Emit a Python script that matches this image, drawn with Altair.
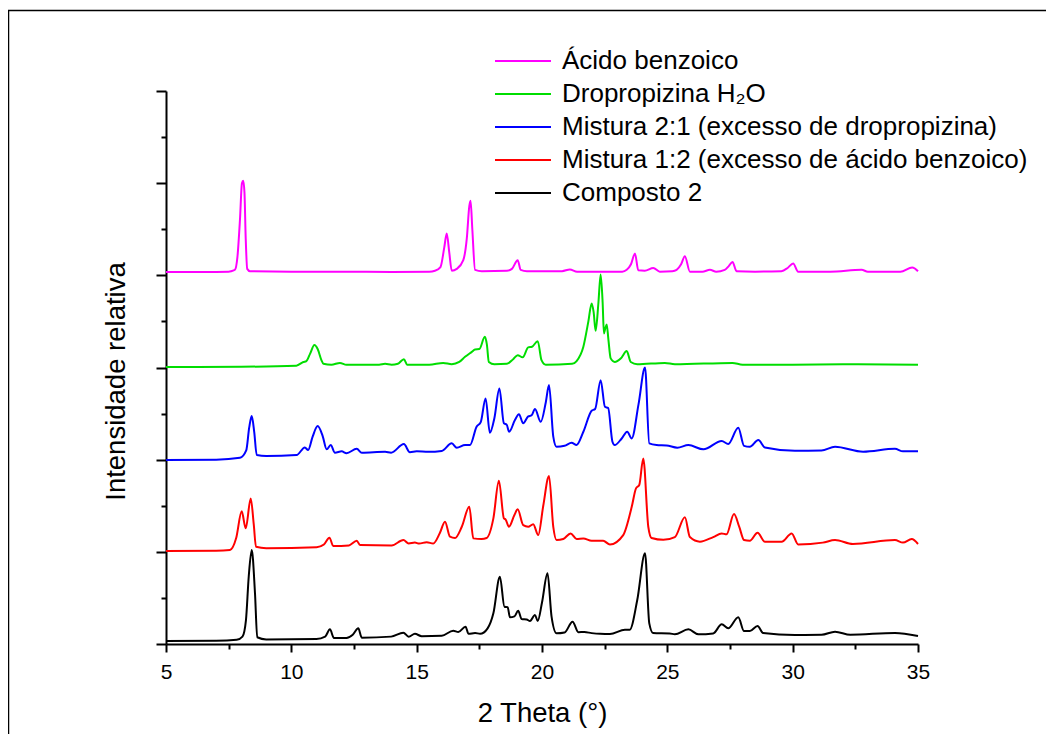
import altair as alt
import pandas as pd

series_names = ["Ácido benzoico", "Dropropizina H₂O", "Mistura 2:1 (excesso de dropropizina)",
                "Mistura 1:2 (excesso de ácido benzoico)", "Composto 2"]
series_colors = ["#FF00FF", "#00DD00", "#0000FF", "#FF0000", "#000000"]
series_offsets = [4, 3, 2, 1, 0]

acido_x = [5.0, 6.5, 7.5, 7.6, 7.75, 7.85, 7.95, 8.03, 8.08, 8.13, 8.18, 8.24, 8.35, 10.0, 12.0, 14.0, 15.5,
           15.73, 15.95, 16.1, 16.2, 16.3, 16.4, 16.6, 16.86, 17.0, 17.1, 17.15, 17.22, 17.33, 17.6, 18.6, 18.8,
           19.03, 19.15, 19.4, 20.8, 21.11, 21.4, 23.2, 23.38, 23.55, 23.71, 23.84, 24.1, 24.44, 24.7, 25.2, 25.37,
           25.55, 25.7, 25.9, 26.4, 26.7, 26.95, 27.29, 27.45, 27.6, 27.76, 28.5, 29.55, 29.8, 30.02, 30.22, 31.5,
           32.75, 33.0, 34.3, 34.77, 35.0]
acido_y = [0.035, 0.035, 0.04, 0.045, 0.06, 0.2, 0.6, 1.0, 1.025, 0.9, 0.4, 0.07, 0.045, 0.04, 0.04, 0.037, 0.04,
           0.05, 0.09, 0.3, 0.454, 0.25, 0.05, 0.07, 0.165, 0.4, 0.75, 0.808, 0.5, 0.06, 0.045, 0.05, 0.07,
           0.165, 0.06, 0.045, 0.045, 0.064, 0.04, 0.04, 0.06, 0.12, 0.237, 0.055, 0.05, 0.08, 0.04, 0.045, 0.06,
           0.12, 0.208, 0.04, 0.04, 0.06, 0.04, 0.06, 0.1, 0.146, 0.045, 0.04, 0.045, 0.08, 0.129, 0.04, 0.04,
           0.06, 0.04, 0.04, 0.086, 0.045]

drop_x = [5.0, 8.0, 10.2, 10.48, 10.6, 10.75, 10.92, 11.05, 11.2, 11.28, 11.6, 11.94, 12.2, 13.5, 13.74, 14.0,
          14.25, 14.49, 14.62, 15.5, 16.06, 16.4, 16.7, 16.93, 17.2, 17.33, 17.5, 17.72, 17.8, 17.88, 18.1, 18.6,
          18.85, 19.03, 19.23, 19.45, 19.6, 19.83, 19.98, 20.15, 21.2, 21.38, 21.65, 21.85, 21.98, 22.06, 22.14,
          22.25, 22.34, 22.42, 22.47, 22.52, 22.58, 22.65, 22.74, 22.9, 23.15, 23.38, 23.54, 23.8, 24.9, 25.3,
          27.6, 28.0, 30.0, 32.0, 35.0]
drop_y = [0.005, 0.008, 0.02, 0.06, 0.07, 0.15, 0.243, 0.2, 0.08, 0.04, 0.03, 0.05, 0.03, 0.03, 0.04, 0.03,
          0.04, 0.09, 0.03, 0.03, 0.05, 0.035, 0.06, 0.116, 0.17, 0.196, 0.2, 0.333, 0.25, 0.06, 0.035, 0.04,
          0.09, 0.134, 0.11, 0.218, 0.225, 0.286, 0.08, 0.03, 0.04, 0.07, 0.225, 0.5, 0.695, 0.6, 0.398,
          0.7, 1.01, 0.7, 0.37, 0.42, 0.467, 0.3, 0.099, 0.06, 0.1, 0.178, 0.06, 0.035, 0.05, 0.035,
          0.05, 0.03, 0.03, 0.035, 0.03]

m21_x = [5.0, 7.0, 7.95, 8.2, 8.32, 8.42, 8.52, 8.62, 9.0, 10.21, 10.54, 10.67, 10.85, 11.05, 11.25, 11.41,
         11.57, 11.74, 12.01, 12.2, 12.61, 12.81, 13.74, 13.98, 14.49, 14.73, 15.0, 15.46, 16.0, 16.4, 16.6,
         16.93, 17.13, 17.39, 17.56, 17.75, 17.92, 18.1, 18.3, 18.48, 18.59, 18.69, 18.92, 19.08, 19.25, 19.45,
         19.58, 19.72, 19.95, 20.15, 20.28, 20.45, 20.58, 20.9, 21.18, 21.38, 21.65, 21.98, 22.12, 22.34, 22.51,
         22.64, 22.81, 22.9, 23.18, 23.4, 23.58, 23.85, 24.11, 24.28, 24.57, 24.97, 25.4, 25.84, 26.44, 27.17,
         27.43, 27.83, 28.06, 28.29, 28.63, 28.89, 30.09, 31.15, 31.69, 32.81, 34.08, 34.4, 35.0]
m21_y = [-0.004, 0.0, 0.02, 0.1, 0.35, 0.473, 0.3, 0.05, 0.04, 0.05, 0.133, 0.104, 0.25, 0.364, 0.256, 0.112,
         0.158, 0.075, 0.09, 0.07, 0.118, 0.075, 0.085, 0.075, 0.169, 0.08, 0.09, 0.085, 0.095, 0.177, 0.13,
         0.16, 0.16, 0.357, 0.411, 0.665, 0.292, 0.45, 0.773, 0.394, 0.38, 0.303, 0.43, 0.494, 0.394, 0.47,
         0.48, 0.549, 0.411, 0.62, 0.809, 0.25, 0.14, 0.15, 0.183, 0.16, 0.303, 0.531, 0.55, 0.863, 0.574,
         0.56, 0.194, 0.158, 0.23, 0.303, 0.231, 0.6, 1.0, 0.177, 0.16, 0.155, 0.13, 0.158, 0.112, 0.202,
         0.17, 0.346, 0.15, 0.14, 0.213, 0.133, 0.097, 0.1, 0.14, 0.086, 0.118, 0.09, 0.09]

m12_x = [5.0, 7.0, 7.55, 7.8, 8.02, 8.18, 8.38, 8.5, 8.59, 9.0, 11.01, 11.3, 11.52, 11.67, 12.3, 12.61, 12.74,
         14.0, 14.47, 14.68, 14.93, 15.1, 15.4, 15.66, 15.93, 16.13, 16.33, 16.53, 16.8, 17.1, 17.26, 17.59,
         17.79, 18.06, 18.28, 18.48, 18.55, 18.68, 18.9, 19.03, 19.25, 19.45, 19.65, 19.85, 20.05, 20.28, 20.45,
         20.58, 20.85, 21.14, 21.38, 21.65, 21.98, 22.44, 22.71, 23.24, 23.58, 23.75, 23.88, 24.04, 24.24,
         24.37, 24.84, 25.3, 25.7, 25.9, 26.3, 26.83, 27.17, 27.36, 27.66, 27.87, 28.06, 28.29, 28.6, 28.89,
         29.56, 29.96, 30.22, 31.2, 31.69, 32.4, 34.08, 34.4, 34.75, 35.0]
m12_y = [0.01, 0.012, 0.02, 0.15, 0.44, 0.255, 0.58, 0.3, 0.055, 0.04, 0.05, 0.08, 0.154, 0.063, 0.07, 0.12, 0.074,
         0.07, 0.128, 0.09, 0.1, 0.09, 0.105, 0.09, 0.207, 0.327, 0.164, 0.15, 0.272, 0.489, 0.146, 0.14,
         0.15, 0.363, 0.771, 0.363, 0.35, 0.272, 0.4, 0.461, 0.29, 0.272, 0.3, 0.182, 0.5, 0.822, 0.27,
         0.128, 0.14, 0.2, 0.14, 0.145, 0.12, 0.12, 0.08, 0.182, 0.489, 0.689, 0.725, 1.014, 0.272,
         0.15, 0.13, 0.16, 0.374, 0.16, 0.11, 0.16, 0.2, 0.19, 0.41, 0.27, 0.128, 0.12, 0.207, 0.11,
         0.11, 0.2, 0.08, 0.1, 0.128, 0.085, 0.128, 0.1, 0.138, 0.085]

comp_x = [5.0, 7.0, 7.82, 8.05, 8.19, 8.3, 8.42, 8.55, 8.64, 9.0, 11.0, 11.35, 11.54, 11.7, 12.2, 12.45, 12.67,
          12.81, 13.98, 14.47, 14.68, 14.93, 15.2, 16.0, 16.46, 16.66, 16.95, 17.07, 17.33, 17.53, 17.83, 18.06,
          18.32, 18.5, 18.63, 18.72, 18.9, 19.05, 19.19, 19.39, 19.52, 19.72, 19.83, 20.0, 20.22, 20.38, 20.58,
          20.9, 21.22, 21.45, 21.69, 21.98, 22.32, 22.71, 23.31, 23.5, 23.8, 24.11, 24.28, 24.43, 25.1, 25.3,
          25.84, 26.24, 26.83, 27.17, 27.43, 27.83, 28.06, 28.29, 28.6, 28.82, 30.09, 31.15, 31.69, 32.3, 34.08,
          35.0]
comp_y = [0.033, 0.035, 0.045, 0.08, 0.26, 0.73, 1.02, 0.55, 0.073, 0.05, 0.054, 0.08, 0.159, 0.065, 0.065, 0.1, 0.17,
          0.069, 0.08, 0.123, 0.08, 0.11, 0.085, 0.09, 0.144, 0.13, 0.188, 0.11, 0.12, 0.11, 0.17, 0.333,
          0.73, 0.405, 0.4, 0.29, 0.3, 0.361, 0.27, 0.265, 0.25, 0.315, 0.25, 0.45, 0.767, 0.3, 0.116,
          0.125, 0.242, 0.128, 0.13, 0.118, 0.11, 0.108, 0.155, 0.155, 0.477, 0.984, 0.224, 0.12, 0.115, 0.105,
          0.159, 0.105, 0.115, 0.214, 0.17, 0.29, 0.14, 0.14, 0.195, 0.12, 0.098, 0.1, 0.134, 0.1, 0.12,
          0.087]

major_x = [5, 10, 15, 20, 25, 30, 35]
minor_x = [7.5, 12.5, 17.5, 22.5, 27.5, 32.5]
major_y = [0, 1, 2, 3, 4, 5, 6]
minor_y = [0.5, 1.5, 2.5, 3.5, 4.5, 5.5]

all_x = [acido_x, drop_x, m21_x, m12_x, comp_x]
all_y = [acido_y, drop_y, m21_y, m12_y, comp_y]

rows = []
for name, off, xs, ys in zip(series_names, series_offsets, all_x, all_y):
    for i, (xv, yv) in enumerate(zip(xs, ys)):
        rows.append({"serie": name, "theta": xv, "intensidade": yv + off, "ordem": i})
df = pd.DataFrame(rows)

FONT = "Liberation Sans"
x_scale = alt.Scale(domain=[5, 35], nice=False, zero=False)
y_scale = alt.Scale(domain=[0, 6], nice=False, zero=False)

lines = alt.Chart(df).mark_line(strokeWidth=2, interpolate="monotone").encode(
    x=alt.X("theta:Q", scale=x_scale,
            axis=alt.Axis(values=major_x, tickSize=8, labelFontSize=21, labelPadding=9, labelFlush=False,
                          title="2 Theta (°)", titleFontSize=27.5, titlePadding=17, format="d")),
    y=alt.Y("intensidade:Q", scale=y_scale,
            axis=alt.Axis(values=major_y, tickSize=10, labels=False,
                          title="Intensidade relativa", titleFontSize=27.5, titlePadding=25, titleY=290)),
    color=alt.Color("serie:N", scale=alt.Scale(domain=series_names, range=series_colors), sort=series_names,
                    legend=alt.Legend(orient="none", legendX=328, legendY=-43, title=None,
                                      labelFontSize=26, labelFont=FONT, labelColor="black",
                                      symbolType="stroke", symbolSize=3136, symbolStrokeWidth=2,
                                      clipHeight=26, labelOffset=10, rowPadding=7, padding=0,
                                      labelLimit=600)),
    order="ordem:Q",
)

minor = alt.Chart(df).mark_line(opacity=0).encode(
    x=alt.X("theta:Q", scale=x_scale,
            axis=alt.Axis(values=minor_x, tickSize=5, labels=False, domain=False, title="", orient="bottom")),
    y=alt.Y("intensidade:Q", scale=y_scale,
            axis=alt.Axis(values=minor_y, tickSize=5, labels=False, domain=False, title="", orient="left")),
    detail="serie:N",
)

frame = alt.Chart(pd.DataFrame({"moldura": [0]})).mark_rect(
    filled=False, stroke="black", strokeWidth=1.5
).encode(
    x=alt.value(-157.5), x2=alt.value(920), y=alt.value(-80.5), y2=alt.value(700)
)

chart = alt.layer(lines, minor, frame).resolve_axis(x="independent", y="independent").properties(
    width=752, height=553,
    autosize=alt.AutoSizeParams(type="none"),
    padding={"left": 158, "top": 83, "right": 128, "bottom": 90},
).configure_axis(
    labelFont=FONT, titleFont=FONT, labelColor="black", titleColor="black",
    tickColor="black", domainColor="black", domainWidth=2, tickWidth=2,
    titleFontWeight="normal", grid=False,
).configure_view(stroke="transparent").configure_legend(labelFont=FONT)

chart.save("out.html", embed_options={"renderer": "svg", "actions": False})
